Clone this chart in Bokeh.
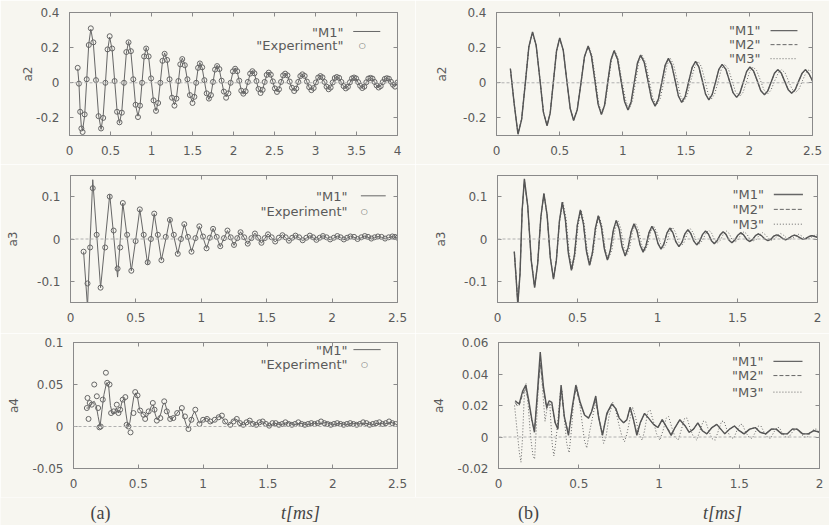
from bokeh.plotting import figure
from bokeh.layouts import row, column
from bokeh.models import Range1d, FixedTicker, LinearAxis, Span, Label, Arrow
from bokeh.embed import file_html
from bokeh.resources import INLINE

# ---------------- data (t in ms, amplitude) ----------------
# Panel (a), a2: model M1 and experiment
a2_m1 = [(0.10,0.08),(0.115,0.0),(0.13,-0.16),(0.145,-0.25),(0.16,-0.27),(0.185,-0.186),(0.21,0.018),(0.235,0.221),
 (0.26,0.305),(0.291,0.222),(0.323,0.02),(0.354,-0.182),(0.385,-0.265),(0.411,-0.188),(0.438,-0.003),(0.464,0.183),
 (0.49,0.26),(0.52,0.188),(0.55,0.015),(0.58,-0.158),(0.61,-0.23),(0.638,-0.162),(0.665,0.003),(0.693,0.167),
 (0.72,0.235),(0.749,0.173),(0.778,0.023),(0.806,-0.128),(0.835,-0.19),(0.86,-0.133),(0.885,0.005),(0.91,0.143),
 (0.935,0.20),(0.965,0.147),(0.995,0.02),(1.025,-0.107),(1.055,-0.16),(1.081,-0.112),(1.108,0.005),(1.134,0.122),
 (1.16,0.17),(1.19,0.127),(1.22,0.023),(1.25,-0.082),(1.28,-0.125),(1.304,-0.086),(1.328,0.008),(1.351,0.101),
 (1.375,0.14),(1.406,0.104),(1.438,0.015),(1.469,-0.074),(1.50,-0.11),(1.523,-0.077),(1.545,0.003),(1.568,0.082),
 (1.59,0.115),(1.618,0.084),(1.645,0.01),(1.673,-0.064),(1.70,-0.095),(1.725,-0.067),(1.75,0.003),(1.775,0.072),
 (1.80,0.10),(1.828,0.074),(1.855,0.01),(1.883,-0.054),(1.91,-0.08),(1.938,-0.056),(1.965,0.003),(1.993,0.061),
 (2.02,0.085),(2.045,0.063),(2.07,0.01),(2.095,-0.043),(2.12,-0.065),(2.148,-0.045),(2.175,0.003),(2.203,0.05),
 (2.23,0.07),(2.255,0.052),(2.28,0.008),(2.305,-0.037),(2.33,-0.055),(2.355,-0.038),(2.38,0.003),(2.405,0.043),
 (2.43,0.06),(2.455,0.044),(2.48,0.005),(2.505,-0.034),(2.53,-0.05),(2.555,-0.035),(2.58,0.003),(2.605,0.04),
 (2.63,0.055),(2.658,0.04),(2.685,0.005),(2.713,-0.03),(2.74,-0.045),(2.765,-0.031),(2.79,0.003),(2.815,0.036),
 (2.84,0.05),(2.868,0.037),(2.895,0.005),(2.923,-0.027),(2.95,-0.04),(2.978,-0.028),(3.005,0.0),(3.033,0.028),
 (3.06,0.04),(3.085,0.029),(3.11,0.003),(3.135,-0.024),(3.16,-0.035),(3.185,-0.025),(3.21,0.0),(3.235,0.025),
 (3.26,0.035),(3.288,0.026),(3.315,0.003),(3.343,-0.021),(3.37,-0.03),(3.395,-0.021),(3.42,0.001),(3.445,0.023),
 (3.47,0.032),(3.495,0.023),(3.52,0.002),(3.545,-0.019),(3.57,-0.028),(3.595,-0.02),(3.62,0.001),(3.645,0.022),
 (3.67,0.03),(3.695,0.022),(3.72,0.003),(3.745,-0.017),(3.77,-0.025),(3.795,-0.017),(3.82,0.002),(3.845,0.02),
 (3.87,0.028),(3.895,0.021),(3.92,0.004),(3.945,-0.013),(3.97,-0.02),(4.0,0.0)]
a2_exp = [(0.10,0.085),(0.115,-0.005),(0.13,-0.165),(0.145,-0.26),(0.16,-0.28),(0.185,-0.18),(0.21,0.02),(0.235,0.215),
 (0.26,0.31),(0.291,0.23),(0.323,0.015),(0.354,-0.19),(0.385,-0.26),(0.411,-0.2),(0.438,0.0),(0.464,0.19),
 (0.49,0.265),(0.52,0.195),(0.55,0.01),(0.58,-0.165),(0.61,-0.225),(0.638,-0.17),(0.665,0.0),(0.693,0.175),
 (0.72,0.23),(0.749,0.18),(0.778,0.02),(0.806,-0.125),(0.835,-0.195),(0.86,-0.13),(0.885,0.0),(0.91,0.15),
 (0.935,0.195),(0.965,0.15),(0.995,0.025),(1.025,-0.1),(1.055,-0.16),(1.081,-0.115),(1.108,0.0),(1.134,0.125),
 (1.16,0.165),(1.19,0.13),(1.22,0.02),(1.25,-0.085),(1.28,-0.13),(1.304,-0.09),(1.328,0.01),(1.351,0.105),
 (1.375,0.135),(1.406,0.1),(1.438,0.02),(1.469,-0.07),(1.50,-0.115),(1.523,-0.08),(1.545,0.0),(1.568,0.085),
 (1.59,0.11),(1.618,0.088),(1.645,0.015),(1.673,-0.06),(1.70,-0.09),(1.725,-0.07),(1.75,0.005),(1.775,0.075),
 (1.80,0.095),(1.828,0.078),(1.855,0.012),(1.883,-0.05),(1.91,-0.085),(1.938,-0.06),(1.965,0.0),(1.993,0.065),
 (2.02,0.08),(2.045,0.066),(2.07,0.012),(2.095,-0.045),(2.12,-0.062),(2.148,-0.048),(2.175,0.005),(2.203,0.052),
 (2.23,0.066),(2.255,0.054),(2.28,0.01),(2.305,-0.035),(2.33,-0.058),(2.355,-0.04),(2.38,0.005),(2.405,0.045),
 (2.43,0.058),(2.455,0.046),(2.48,0.008),(2.505,-0.032),(2.53,-0.052),(2.555,-0.037),(2.58,0.005),(2.605,0.042),
 (2.63,0.052),(2.658,0.042),(2.685,0.007),(2.713,-0.028),(2.74,-0.047),(2.765,-0.033),(2.79,0.005),(2.815,0.038),
 (2.84,0.048),(2.868,0.039),(2.895,0.007),(2.923,-0.025),(2.95,-0.042),(2.978,-0.03),(3.005,0.002),(3.033,0.03),
 (3.06,0.038),(3.085,0.031),(3.11,0.005),(3.135,-0.022),(3.16,-0.037),(3.185,-0.027),(3.21,0.002),(3.235,0.027),
 (3.26,0.033),(3.288,0.028),(3.315,0.005),(3.343,-0.019),(3.37,-0.032),(3.395,-0.023),(3.42,0.003),(3.445,0.025),
 (3.47,0.03),(3.495,0.025),(3.52,0.004),(3.545,-0.017),(3.57,-0.03),(3.595,-0.022),(3.62,0.003),(3.645,0.024),
 (3.67,0.028),(3.695,0.024),(3.72,0.005),(3.745,-0.015),(3.77,-0.027),(3.795,-0.019),(3.82,0.004),(3.845,0.022),
 (3.87,0.026),(3.895,0.023),(3.92,0.006),(3.945,-0.011),(3.97,-0.022),(4.0,0.002)]

# Panel (a), a3
a3_t = [0.10,0.13,0.15,0.17,0.20,0.23,0.265,0.30,0.33,0.36,0.38,0.40,0.433,0.465,0.498,0.53,0.56,0.59,0.615,0.64,
 0.668,0.695,0.728,0.76,0.79,0.82,0.845,0.87,0.898,0.925,0.955,0.985,1.013,1.04,1.065,1.09,1.118,1.145,1.173,1.20,
 1.225,1.25,1.275,1.30,1.328,1.355,1.383,1.41,1.435,1.46,1.485,1.51,1.538,1.565,1.593,1.62,1.645,1.67,1.695,1.72,
 1.748,1.775,1.803,1.83,1.855,1.88,1.905,1.93,1.958,1.985,2.013,2.04,2.065,2.09,2.115,2.14,2.168,2.195,2.223,2.25,
 2.275,2.30,2.325,2.35,2.378,2.405,2.433,2.46,2.48,2.5]
a3_m1 = [-0.03,-0.16,-0.005,0.14,0.012,-0.115,-0.005,0.105,0.008,-0.09,-0.003,0.085,0.005,-0.075,-0.003,0.07,0.005,-0.06,0.0,0.06,
 0.005,-0.05,-0.001,0.048,0.006,-0.035,0.0,0.035,0.003,-0.03,0.0,0.03,0.004,-0.022,0.002,0.025,0.004,-0.018,0.001,0.02,
 0.003,-0.015,0.001,0.017,0.003,-0.012,0.001,0.014,0.002,-0.01,0.001,0.012,0.003,-0.007,0.002,0.01,0.003,-0.005,0.002,0.009,
 0.003,-0.004,0.002,0.008,0.003,-0.003,0.002,0.008,0.003,-0.002,0.002,0.007,0.003,-0.002,0.002,0.007,0.004,-0.001,0.003,0.007,
 0.004,0.0,0.003,0.006,0.004,0.0,0.003,0.006,0.004,0.002]
a3_exp = [-0.03,-0.105,-0.02,0.12,0.01,-0.115,-0.02,0.10,0.02,-0.07,-0.02,0.085,0.01,-0.075,-0.005,0.07,0.01,-0.055,0.0,0.06,
 0.01,-0.05,0.005,0.045,0.01,-0.035,0.0,0.035,0.005,-0.03,0.002,0.03,0.006,-0.022,0.003,0.024,0.005,-0.017,0.002,0.02,
 0.004,-0.014,0.002,0.016,0.004,-0.011,0.002,0.013,0.003,-0.009,0.002,0.011,0.004,-0.006,0.003,0.009,0.004,-0.004,0.003,0.008,
 0.004,-0.003,0.003,0.008,0.004,-0.002,0.003,0.007,0.004,-0.001,0.003,0.007,0.004,-0.001,0.003,0.006,0.005,0.0,0.004,0.007,
 0.005,0.001,0.004,0.006,0.005,0.001,0.004,0.006,0.005,0.003]

# Panel (a), a4
a4_m1 = [(0.10,0.022),(0.12,0.022),(0.14,0.028),(0.16,0.03),(0.175,0.025),(0.19,0.012),(0.205,0.0),(0.22,0.02),
 (0.235,0.038),(0.255,0.052),(0.27,0.05),(0.285,0.025),(0.30,0.015),(0.315,0.016),(0.33,0.022),(0.345,0.016),
 (0.36,0.02),(0.375,0.03),(0.39,0.033),(0.405,0.015),(0.42,0.0),(0.435,0.005),(0.45,0.02),(0.465,0.035),
 (0.48,0.04),(0.495,0.034),(0.51,0.02),(0.525,0.017),(0.54,0.015),(0.555,0.012),(0.57,0.012),(0.585,0.018),
 (0.60,0.024),(0.615,0.026),(0.63,0.015),(0.645,0.008),(0.66,0.01),(0.675,0.016),(0.69,0.026),(0.705,0.028),
 (0.72,0.02),(0.735,0.012),(0.75,0.009),(0.765,0.01),(0.78,0.012),(0.80,0.016),(0.82,0.02),(0.835,0.02),
 (0.85,0.012),(0.87,0.002),(0.885,-0.002),(0.90,0.004),(0.92,0.014),(0.935,0.018),(0.95,0.012),(0.97,0.004),
 (0.99,0.006),(1.01,0.009),(1.03,0.01),(1.05,0.006),(1.07,0.004),(1.09,0.007),(1.11,0.011),(1.13,0.012),
 (1.15,0.01),(1.17,0.005),(1.19,0.002),(1.21,0.003),(1.23,0.007),(1.25,0.009),(1.27,0.007),(1.29,0.003),
 (1.31,0.002),(1.33,0.004),(1.35,0.007),(1.37,0.006),(1.39,0.003),(1.41,0.002),(1.43,0.004),(1.45,0.006),
 (1.47,0.005),(1.49,0.002),(1.51,0.001),(1.55,0.004),(1.60,0.002),(1.65,0.005),(1.70,0.002),(1.75,0.004),
 (1.80,0.002),(1.85,0.004),(1.90,0.003),(1.95,0.005),(2.00,0.002),(2.05,0.004),(2.10,0.002),(2.15,0.004),
 (2.20,0.003),(2.25,0.004),(2.30,0.002),(2.35,0.004),(2.40,0.003),(2.45,0.005),(2.50,0.002)]
a4_exp = [(0.103,0.022),(0.108,0.034),(0.116,0.009),(0.125,0.028),(0.141,0.026),(0.16,0.05),(0.18,0.036),(0.19,0.022),
 (0.20,-0.001),(0.21,0.0),(0.226,0.032),(0.25,0.064),(0.26,0.052),(0.278,0.05),(0.29,0.016),(0.31,0.018),
 (0.334,0.026),(0.347,0.016),(0.36,0.02),(0.38,0.032),(0.40,0.035),(0.41,0.002),(0.424,0.0),(0.44,-0.007),
 (0.463,0.016),(0.476,0.041),(0.494,0.037),(0.514,0.019),(0.54,0.014),(0.553,0.009),(0.58,0.018),(0.612,0.028),
 (0.625,0.02),(0.643,0.007),(0.67,0.01),(0.70,0.03),(0.72,0.018),(0.746,0.009),(0.77,0.01),(0.80,0.016),
 (0.836,0.022),(0.86,0.012),(0.887,-0.003),(0.91,0.008),(0.94,0.02),(0.972,0.003),(1.0,0.008),(1.03,0.009),
 (1.055,0.006),(1.09,0.008),(1.12,0.011),(1.145,0.013),(1.17,0.006),(1.21,0.002),(1.235,0.006),(1.26,0.009),
 (1.285,0.004),(1.31,0.002),(1.335,0.005),(1.36,0.007),(1.385,0.003),(1.41,0.002),(1.435,0.005),(1.46,0.006),
 (1.485,0.003),(1.51,0.001),(1.535,0.004),(1.56,0.004),(1.585,0.002),(1.61,0.003),(1.635,0.005),(1.66,0.003),
 (1.685,0.002),(1.71,0.003),(1.735,0.005),(1.76,0.003),(1.785,0.002),(1.81,0.003),(1.835,0.004),(1.86,0.003),
 (1.885,0.004),(1.91,0.006),(1.935,0.004),(1.96,0.003),(1.985,0.002),(2.01,0.003),(2.035,0.004),(2.06,0.003),
 (2.085,0.002),(2.11,0.003),(2.135,0.004),(2.16,0.003),(2.185,0.002),(2.21,0.003),(2.235,0.005),(2.26,0.004),
 (2.285,0.002),(2.31,0.003),(2.335,0.004),(2.36,0.005),(2.385,0.003),(2.41,0.004),(2.435,0.006),(2.46,0.004),(2.485,0.003)]

# Panel (b), a2: models M1, M2, M3
b2_m1 = [(0.11,0.08),(0.14,-0.12),(0.17,-0.293),(0.199,-0.208),(0.228,-0.002),(0.256,0.205),(0.285,0.29),(0.314,0.212),
 (0.343,0.023),(0.371,-0.167),(0.40,-0.245),(0.425,-0.172),(0.45,0.005),(0.475,0.182),(0.50,0.255),(0.528,0.186),
 (0.555,0.02),(0.583,-0.146),(0.61,-0.215),(0.639,-0.153),(0.668,-0.003),(0.696,0.148),(0.725,0.21),(0.751,0.153),
 (0.778,0.015),(0.804,-0.123),(0.83,-0.18),(0.855,-0.127),(0.88,0.002),(0.905,0.13),(0.93,0.183),(0.958,0.134),
 (0.985,0.014),(1.013,-0.106),(1.04,-0.155),(1.065,-0.109),(1.09,0.002),(1.115,0.112),(1.14,0.158),(1.169,0.116),
 (1.198,0.013),(1.226,-0.09),(1.255,-0.133),(1.281,-0.093),(1.308,0.003),(1.334,0.099),(1.36,0.139),(1.386,0.102),
 (1.413,0.014),(1.439,-0.075),(1.465,-0.112),(1.493,-0.078),(1.52,0.005),(1.548,0.088),(1.575,0.122),(1.601,0.09),
 (1.628,0.013),(1.654,-0.065),(1.68,-0.097),(1.706,-0.068),(1.733,0.004),(1.759,0.076),(1.785,0.105),(1.814,0.078),
 (1.843,0.011),(1.871,-0.056),(1.90,-0.083),(1.926,-0.058),(1.953,0.004),(1.979,0.065),(2.005,0.09),(2.034,0.067),
 (2.063,0.011),(2.091,-0.045),(2.12,-0.068),(2.146,-0.047),(2.173,0.004),(2.199,0.054),(2.225,0.075),(2.253,0.055),
 (2.28,0.008),(2.308,-0.04),(2.335,-0.06),(2.363,-0.04),(2.39,0.008),(2.418,0.055),(2.445,0.075),(2.473,0.05),(2.50,0.01)]
b2_m2 = [(0.11,0.08),(0.14,-0.12),(0.17,-0.29),(0.199,-0.206),(0.228,-0.002),(0.256,0.203),(0.285,0.287),(0.314,0.21),
 (0.343,0.022),(0.371,-0.165),(0.40,-0.243),(0.425,-0.171),(0.45,0.005),(0.475,0.18),(0.50,0.252),(0.528,0.184),
 (0.555,0.019),(0.583,-0.145),(0.61,-0.213),(0.639,-0.152),(0.668,-0.003),(0.696,0.146),(0.725,0.208),(0.751,0.151),
 (0.778,0.014),(0.804,-0.122),(0.83,-0.178),(0.855,-0.126),(0.88,0.002),(0.905,0.128),(0.93,0.181),(0.958,0.132),
 (0.985,0.013),(1.013,-0.105),(1.04,-0.153),(1.065,-0.108),(1.09,0.002),(1.115,0.11),(1.14,0.156),(1.169,0.114),
 (1.198,0.012),(1.226,-0.089),(1.255,-0.131),(1.281,-0.092),(1.308,0.003),(1.334,0.097),(1.36,0.137),(1.386,0.1),
 (1.413,0.013),(1.439,-0.074),(1.465,-0.11),(1.493,-0.077),(1.52,0.004),(1.548,0.086),(1.575,0.12),(1.601,0.088),
 (1.628,0.012),(1.654,-0.064),(1.68,-0.095),(1.706,-0.067),(1.733,0.004),(1.759,0.074),(1.785,0.103),(1.814,0.076),
 (1.843,0.011),(1.871,-0.055),(1.90,-0.081),(1.926,-0.057),(1.953,0.004),(1.979,0.063),(2.005,0.088),(2.034,0.065),
 (2.063,0.011),(2.091,-0.044),(2.12,-0.066),(2.146,-0.046),(2.173,0.004),(2.199,0.052),(2.225,0.073),(2.253,0.054),
 (2.28,0.008),(2.308,-0.039),(2.335,-0.058),(2.363,-0.039),(2.39,0.008),(2.418,0.053),(2.445,0.073),(2.473,0.049),(2.50,0.01)]
b2_m3 = [(0.11,0.08),(0.14,-0.12),(0.17,-0.29),(0.199,-0.205),(0.228,0.0),(0.256,0.205),(0.285,0.288),(0.314,0.212),
 (0.343,0.025),(0.371,-0.165),(0.40,-0.243),(0.425,-0.17),(0.45,0.007),(0.475,0.183),(0.50,0.255),(0.528,0.187),
 (0.555,0.022),(0.583,-0.144),(0.61,-0.212),(0.639,-0.15),(0.668,0.0),(0.696,0.15),(0.73,0.21),(0.756,0.155),
 (0.783,0.018),(0.809,-0.12),(0.835,-0.176),(0.86,-0.123),(0.885,0.005),(0.91,0.132),(0.935,0.184),(0.963,0.136),
 (0.99,0.017),(1.023,-0.102),(1.05,-0.15),(1.075,-0.105),(1.10,0.005),(1.125,0.114),(1.15,0.158),(1.179,0.118),
 (1.208,0.016),(1.236,-0.086),(1.265,-0.128),(1.296,-0.089),(1.323,0.006),(1.349,0.1),(1.375,0.139),(1.401,0.104),
 (1.428,0.017),(1.454,-0.071),(1.48,-0.107),(1.508,-0.074),(1.535,0.008),(1.568,0.09),(1.595,0.122),(1.621,0.092),
 (1.648,0.016),(1.674,-0.061),(1.70,-0.092),(1.726,-0.064),(1.753,0.007),(1.779,0.078),(1.805,0.105),(1.834,0.08),
 (1.863,0.014),(1.891,-0.052),(1.925,-0.078),(1.951,-0.054),(1.978,0.007),(2.004,0.067),(2.03,0.09),(2.059,0.069),
 (2.088,0.014),(2.116,-0.041),(2.145,-0.063),(2.171,-0.043),(2.198,0.007),(2.229,0.056),(2.255,0.075),(2.283,0.057),
 (2.31,0.011),(2.338,-0.036),(2.365,-0.055),(2.393,-0.036),(2.42,0.011),(2.448,0.057),(2.475,0.076),(2.503,0.05)]

# Panel (b), a3
b3_m1 = [(0.105,-0.03),(0.116,-0.09),(0.127,-0.155),(0.141,-0.081),(0.154,0.068),(0.168,0.142),(0.189,0.078),(0.211,-0.051),
 (0.232,-0.115),(0.251,-0.059),(0.271,0.052),(0.29,0.108),(0.31,0.057),(0.33,-0.044),(0.35,-0.095),(0.368,-0.05),
 (0.387,0.042),(0.405,0.087),(0.424,0.047),(0.443,-0.034),(0.462,-0.074),(0.481,-0.038),(0.499,0.033),(0.518,0.069),
 (0.537,0.036),(0.556,-0.029),(0.575,-0.062),(0.593,-0.033),(0.612,0.026),(0.63,0.055),(0.649,0.029),(0.668,-0.024),
 (0.687,-0.05),(0.705,-0.027),(0.724,0.021),(0.742,0.044),(0.761,0.023),(0.779,-0.019),(0.798,-0.04),(0.816,-0.021),
 (0.835,0.017),(0.853,0.036),(0.872,0.019),(0.891,-0.014),(0.91,-0.031),(0.928,-0.016),(0.947,0.015),(0.965,0.03),
 (0.984,0.017),(1.003,-0.011),(1.022,-0.024),(1.04,-0.012),(1.059,0.014),(1.077,0.026),(1.096,0.015),(1.115,-0.007),
 (1.134,-0.018),(1.153,-0.008),(1.171,0.012),(1.19,0.022),(1.208,0.013),(1.227,-0.005),(1.245,-0.014),(1.263,-0.006),
 (1.282,0.011),(1.30,0.019),(1.318,0.012),(1.337,-0.004),(1.355,-0.011),(1.373,-0.004),(1.392,0.01),(1.41,0.017),
 (1.428,0.011),(1.447,-0.003),(1.465,-0.009),(1.483,-0.003),(1.502,0.009),(1.52,0.015),(1.538,0.01),(1.557,-0.001),
 (1.575,-0.006),(1.593,-0.002),(1.612,0.008),(1.63,0.012),(1.65,0.008),(1.67,0.0),(1.69,-0.004),(1.708,-0.001),
 (1.727,0.007),(1.745,0.01),(1.763,0.007),(1.782,0.001),(1.80,-0.002),(1.818,0.001),(1.837,0.006),(1.855,0.009),
 (1.873,0.007),(1.892,0.002),(1.91,-0.001),(1.928,0.001),(1.947,0.006),(1.965,0.008),(1.983,0.006),(2.0,0.004)]
b3_m2 = [(0.105,-0.03),(0.116,-0.088),(0.127,-0.152),(0.141,-0.08),(0.154,0.066),(0.168,0.138),(0.189,0.076),(0.211,-0.05),
 (0.232,-0.113),(0.251,-0.058),(0.271,0.051),(0.29,0.106),(0.31,0.056),(0.33,-0.043),(0.35,-0.094),(0.368,-0.049),
 (0.387,0.041),(0.405,0.086),(0.424,0.046),(0.443,-0.033),(0.462,-0.073),(0.481,-0.037),(0.499,0.033),(0.518,0.068),
 (0.537,0.036),(0.556,-0.028),(0.575,-0.061),(0.593,-0.032),(0.612,0.026),(0.63,0.054),(0.649,0.029),(0.668,-0.023),
 (0.687,-0.049),(0.705,-0.026),(0.724,0.021),(0.742,0.043),(0.761,0.023),(0.779,-0.018),(0.798,-0.039),(0.816,-0.02),
 (0.835,0.017),(0.853,0.035),(0.872,0.019),(0.891,-0.013),(0.91,-0.03),(0.928,-0.015),(0.947,0.015),(0.965,0.029),
 (0.984,0.017),(1.003,-0.01),(1.022,-0.023),(1.04,-0.011),(1.059,0.014),(1.077,0.025),(1.096,0.015),(1.115,-0.006),
 (1.134,-0.017),(1.153,-0.007),(1.171,0.012),(1.19,0.021),(1.208,0.013),(1.227,-0.004),(1.245,-0.013),(1.263,-0.005),
 (1.282,0.011),(1.30,0.018),(1.318,0.012),(1.337,-0.003),(1.355,-0.01),(1.373,-0.003),(1.392,0.01),(1.41,0.016),
 (1.428,0.011),(1.447,-0.002),(1.465,-0.008),(1.483,-0.002),(1.502,0.009),(1.52,0.014),(1.538,0.01),(1.557,0.0),
 (1.575,-0.005),(1.593,-0.001),(1.612,0.008),(1.63,0.012),(1.65,0.008),(1.67,0.001),(1.69,-0.003),(1.708,0.0),
 (1.727,0.007),(1.745,0.01),(1.763,0.007),(1.782,0.002),(1.80,-0.001),(1.818,0.002),(1.837,0.006),(1.855,0.009),
 (1.873,0.007),(1.892,0.003),(1.91,0.0),(1.928,0.002),(1.947,0.006),(1.965,0.008),(1.983,0.006),(2.0,0.004)]
b3_m3 = [(0.105,-0.03),(0.116,-0.09),(0.127,-0.15),(0.141,-0.078),(0.154,0.066),(0.168,0.138),(0.189,0.077),(0.211,-0.05),
 (0.232,-0.113),(0.251,-0.058),(0.271,0.051),(0.29,0.106),(0.31,0.056),(0.33,-0.043),(0.35,-0.093),(0.368,-0.049),
 (0.387,0.041),(0.41,0.086),(0.429,0.047),(0.448,-0.033),(0.467,-0.072),(0.486,-0.037),(0.504,0.033),(0.523,0.068),
 (0.542,0.036),(0.561,-0.028),(0.58,-0.06),(0.598,-0.032),(0.617,0.026),(0.635,0.055),(0.654,0.03),(0.673,-0.023),
 (0.692,-0.048),(0.715,-0.026),(0.734,0.021),(0.752,0.044),(0.771,0.024),(0.789,-0.018),(0.808,-0.038),(0.826,-0.02),
 (0.845,0.018),(0.863,0.037),(0.882,0.02),(0.901,-0.013),(0.92,-0.029),(0.938,-0.015),(0.957,0.016),(0.975,0.031),
 (0.994,0.018),(1.018,-0.01),(1.037,-0.022),(1.055,-0.011),(1.074,0.015),(1.092,0.028),(1.111,0.017),(1.13,-0.006),
 (1.149,-0.016),(1.168,-0.007),(1.186,0.013),(1.205,0.024),(1.223,0.015),(1.242,-0.004),(1.26,-0.012),(1.278,-0.005),
 (1.302,0.013),(1.32,0.021),(1.338,0.014),(1.357,-0.003),(1.375,-0.009),(1.393,-0.003),(1.412,0.012),(1.43,0.019),
 (1.448,0.013),(1.467,-0.002),(1.485,-0.007),(1.503,-0.002),(1.522,0.011),(1.54,0.017),(1.558,0.012),(1.577,0.0),
 (1.595,-0.005),(1.618,-0.001),(1.637,0.01),(1.655,0.015),(1.675,0.01),(1.695,0.001),(1.715,-0.003),(1.733,0.0),
 (1.752,0.009),(1.77,0.013),(1.788,0.009),(1.807,0.002),(1.825,-0.001),(1.843,0.001),(1.862,0.008),(1.88,0.011),
 (1.898,0.008),(1.917,0.002),(1.935,0.0),(1.953,0.002),(1.972,0.007),(1.99,0.01),(2.008,0.008)]

# Panel (b), a4
b4_m1 = [(0.104,0.023),(0.115,0.022),(0.129,0.021),(0.15,0.029),(0.17,0.033),(0.187,0.024),(0.208,0.011),(0.224,0.003),
 (0.245,0.032),(0.26,0.054),(0.28,0.032),(0.30,0.019),(0.316,0.023),(0.332,0.022),(0.353,0.009),(0.37,0.005),
 (0.39,0.033),(0.41,0.013),(0.436,0.001),(0.461,0.02),(0.482,0.033),(0.509,0.022),(0.536,0.014),(0.561,0.012),
 (0.58,0.016),(0.606,0.026),(0.623,0.013),(0.648,0.001),(0.675,0.015),(0.706,0.021),(0.731,0.018),(0.752,0.012),
 (0.779,0.009),(0.80,0.011),(0.82,0.019),(0.841,0.011),(0.862,0.001),(0.883,0.009),(0.91,0.015),(0.935,0.012),
 (0.966,0.008),(0.993,0.006),(1.02,0.011),(1.049,0.006),(1.076,0.001),(1.10,0.006),(1.13,0.011),(1.163,0.007),
 (1.188,0.003),(1.215,0.005),(1.242,0.009),(1.27,0.004),(1.298,0.002),(1.33,0.006),(1.36,0.008),(1.385,0.005),
 (1.41,0.002),(1.44,0.005),(1.47,0.007),(1.50,0.004),(1.53,0.002),(1.565,0.005),(1.60,0.006),(1.63,0.003),
 (1.665,0.002),(1.70,0.005),(1.73,0.005),(1.765,0.002),(1.80,0.002),(1.83,0.005),(1.86,0.005),(1.895,0.002),
 (1.93,0.002),(1.965,0.004),(2.0,0.003)]
b4_m2 = [(0.104,0.022),(0.115,0.02),(0.129,0.02),(0.15,0.027),(0.17,0.031),(0.187,0.022),(0.208,0.01),(0.224,0.004),
 (0.245,0.029),(0.26,0.047),(0.28,0.03),(0.30,0.018),(0.316,0.021),(0.332,0.02),(0.353,0.009),(0.37,0.006),
 (0.39,0.03),(0.41,0.013),(0.436,0.002),(0.461,0.019),(0.482,0.031),(0.509,0.021),(0.536,0.014),(0.561,0.012),
 (0.58,0.016),(0.606,0.024),(0.623,0.013),(0.648,0.002),(0.675,0.014),(0.706,0.021),(0.731,0.018),(0.752,0.012),
 (0.779,0.009),(0.80,0.011),(0.82,0.018),(0.841,0.011),(0.862,0.002),(0.883,0.009),(0.91,0.015),(0.935,0.012),
 (0.966,0.008),(0.993,0.006),(1.02,0.011),(1.049,0.006),(1.076,0.002),(1.10,0.006),(1.13,0.011),(1.163,0.007),
 (1.188,0.003),(1.215,0.005),(1.242,0.009),(1.27,0.004),(1.298,0.002),(1.33,0.006),(1.36,0.008),(1.385,0.005),
 (1.41,0.002),(1.44,0.005),(1.47,0.007),(1.50,0.004),(1.53,0.002),(1.565,0.005),(1.60,0.006),(1.63,0.003),
 (1.665,0.002),(1.70,0.005),(1.73,0.005),(1.765,0.002),(1.80,0.002),(1.83,0.005),(1.86,0.005),(1.895,0.002),
 (1.93,0.002),(1.965,0.004),(2.0,0.003)]
b4_m3 = [(0.10,0.02),(0.115,0.005),(0.13,-0.01),(0.14,-0.016),(0.15,0.0),(0.16,0.025),(0.172,0.034),(0.185,0.02),
 (0.20,0.0),(0.215,-0.012),(0.225,-0.014),(0.235,0.005),(0.25,0.035),(0.262,0.046),(0.275,0.03),(0.29,0.01),
 (0.305,0.02),(0.32,0.02),(0.335,-0.005),(0.345,-0.012),(0.355,-0.005),(0.37,0.01),(0.385,0.028),(0.395,0.03),
 (0.41,0.012),(0.425,-0.004),(0.44,-0.01),(0.455,0.005),(0.47,0.025),(0.488,0.032),(0.505,0.022),(0.52,0.01),
 (0.535,-0.002),(0.55,-0.007),(0.565,0.002),(0.585,0.012),(0.605,0.022),(0.62,0.016),(0.64,0.004),(0.655,-0.004),
 (0.67,0.0),(0.69,0.014),(0.712,0.022),(0.73,0.017),(0.75,0.008),(0.77,0.0),(0.785,-0.003),(0.80,0.002),
 (0.82,0.012),(0.835,0.019),(0.855,0.012),(0.875,0.002),(0.895,-0.002),(0.91,0.004),(0.93,0.016),(0.945,0.017),
 (0.965,0.01),(0.985,0.002),(1.005,-0.002),(1.025,0.004),(1.045,0.012),(1.06,0.013),(1.08,0.006),(1.10,0.0),
 (1.12,-0.002),(1.14,0.005),(1.16,0.012),(1.175,0.012),(1.195,0.005),(1.215,0.0),(1.235,-0.002),(1.255,0.004),
 (1.275,0.01),(1.29,0.01),(1.31,0.004),(1.33,-0.001),(1.35,-0.002),(1.37,0.004),(1.39,0.01),(1.405,0.01),
 (1.425,0.004),(1.445,0.0),(1.465,-0.001),(1.485,0.004),(1.505,0.008),(1.52,0.008),(1.54,0.003),(1.56,0.0),
 (1.58,-0.001),(1.60,0.003),(1.62,0.007),(1.635,0.007),(1.655,0.003),(1.675,0.0),(1.695,-0.001),(1.715,0.003),
 (1.735,0.006),(1.75,0.006),(1.77,0.002),(1.79,0.0),(1.81,0.0),(1.83,0.003),(1.85,0.005),(1.865,0.005),
 (1.885,0.002),(1.905,0.0),(1.925,0.0),(1.945,0.003),(1.965,0.005),(1.98,0.005),(2.0,0.003)]

# tick values and labels
xt_4 = [0, 0.5, 1, 1.5, 2, 2.5, 3, 3.5, 4]
xl_4 = ["0", "0.5", "1", "1.5", "2", "2.5", "3", "3.5", "4"]
xt_25 = [0, 0.5, 1, 1.5, 2, 2.5]
xl_25 = ["0", "0.5", "1", "1.5", "2", "2.5"]
xt_2 = [0, 0.5, 1, 1.5, 2]
xl_2 = ["0", "0.5", "1", "1.5", "2"]
yt_a2 = [-0.2, 0, 0.2, 0.4]
yl_a2 = ["-0.2", "0", "0.2", "0.4"]
yt_a3 = [-0.1, 0, 0.1]
yl_a3 = ["-0.1", "0", "0.1"]
yt_a4a = [-0.05, 0, 0.05, 0.1]
yl_a4a = ["-0.05", "0", "0.05", "0.1"]
yt_a4b = [-0.02, 0, 0.02, 0.04, 0.06]
yl_a4b = ["-0.02", "0", "0.02", "0.04", "0.06"]

# ---------------- style ----------------
BG = "#f7f6f0"
INK = "#5a5a5a"
FRAME = "#8a8a8a"
CURVE = "#666666"
SANS = "DejaVu Sans"


def unzip(pairs):
    return [p[0] for p in pairs], [p[1] for p in pairs]


def panel(w, h, borders, xr, yr, xt, xl, yt, yl, ylab, ylab_standoff):
    left, right, top, bottom = borders
    p = figure(width=w, height=h, x_range=Range1d(*xr), y_range=Range1d(*yr),
               output_backend="svg", toolbar_location=None,
               min_border_left=left, min_border_right=right,
               min_border_top=top, min_border_bottom=bottom,
               background_fill_color=BG, border_fill_color=BG,
               outline_line_color=FRAME, outline_line_width=1)
    p.xgrid.visible = False
    p.ygrid.visible = False
    for ax, tv, tl in ((p.xaxis[0], xt, xl), (p.yaxis[0], yt, yl)):
        ax.ticker = FixedTicker(ticks=tv)
        ax.major_label_overrides = {k: s for k, s in zip(tv, tl)}
        ax.major_tick_in = 4
        ax.major_tick_out = 0
        ax.minor_tick_line_color = None
        ax.major_tick_line_color = FRAME
        ax.axis_line_color = FRAME
        ax.major_label_text_font = SANS
        ax.major_label_text_font_size = "12px"
        ax.major_label_text_color = INK
        ax.major_label_standoff = 10
    p.yaxis[0].axis_label = ylab
    p.yaxis[0].axis_label_text_font = SANS
    p.yaxis[0].axis_label_text_font_style = "normal"
    p.yaxis[0].axis_label_text_font_size = "12px"
    p.yaxis[0].axis_label_text_color = INK
    p.yaxis[0].axis_label_standoff = ylab_standoff
    # mirrored inward ticks on top and right (gnuplot style)
    for loc, tv in (("above", xt), ("right", yt)):
        m = LinearAxis(ticker=FixedTicker(ticks=tv),
                       major_label_overrides={k: "" for k in tv},
                       major_tick_in=4, major_tick_out=0, minor_tick_line_color=None,
                       major_tick_line_color=FRAME, axis_line_color=FRAME,
                       major_label_standoff=0, major_label_text_font_size="1px")
        p.add_layout(m, loc)
    p.add_layout(Span(location=0, dimension="width", line_color="#b0b0b0",
                      line_width=1, line_dash="3 2"))
    return p


def legend_text(p, x, y, text):
    p.add_layout(Label(x=x, y=y, text=text, text_align="right", text_baseline="middle",
                       text_font=SANS, text_font_size="13px", text_color=INK))


def legend_line(p, x0, x1, y, dash, width):
    p.add_layout(Arrow(end=None, x_start=x0, y_start=y, x_end=x1, y_end=y,
                       line_color=CURVE, line_width=width, line_dash=dash))


def legend_marker(p, x, y):
    p.add_layout(Label(x=x, y=y, text="\u25cb", text_align="center", text_baseline="middle",
                       text_font=SANS, text_font_size="8px", text_color=CURVE))


# ---------------- (a) column ----------------
pa2 = panel(415, 164, (69, 18, 10, 27), (0, 4), (-0.3, 0.4), xt_4, xl_4, yt_a2, yl_a2, "a2", -2)
x, y = unzip(a2_m1)
pa2.line(x, y, line_color=CURVE, line_width=1)
x, y = unzip(a2_exp)
pa2.scatter(x, y, marker="circle", size=5, fill_alpha=0, line_color=CURVE, line_width=1)
legend_text(pa2, 3.34, 0.289, '"M1"')
legend_line(pa2, 3.46, 3.79, 0.292, "solid", 1)
legend_text(pa2, 3.34, 0.211, '"Experiment"')
legend_marker(pa2, 3.57, 0.211)

pa3 = panel(415, 169, (70, 18, 11, 29), (0, 2.5), (-0.15, 0.15), xt_25, xl_25, yt_a3, yl_a3, "a3", 14)
pa3.line(a3_t, a3_m1, line_color=CURVE, line_width=1)
pa3.scatter(a3_t, a3_exp, marker="circle", size=5, fill_alpha=0, line_color=CURVE, line_width=1)
legend_text(pa3, 2.118, 0.101, '"M1"')
legend_line(pa3, 2.22, 2.41, 0.102, "solid", 1)
legend_text(pa3, 2.118, 0.066, '"Experiment"')
legend_marker(pa3, 2.245, 0.066)

pa4 = panel(415, 164, (73, 18, 9, 28), (0, 2.5), (-0.05, 0.1), xt_25, xl_25, yt_a4a, yl_a4a, "a4", 8)
x, y = unzip(a4_m1)
pa4.line(x, y, line_color=CURVE, line_width=1)
x, y = unzip(a4_exp)
pa4.scatter(x, y, marker="circle", size=5, fill_alpha=0, line_color=CURVE, line_width=1)
legend_text(pa4, 2.114, 0.0906, '"M1"')
legend_line(pa4, 2.16, 2.37, 0.0915, "solid", 1)
legend_text(pa4, 2.114, 0.0741, '"Experiment"')
legend_marker(pa4, 2.245, 0.0741)

# ---------------- (b) column ----------------
def models(p, m1, m2, m3):
    x, y = unzip(m3)
    p.line(x, y, line_color=CURVE, line_width=1, line_dash="1 2")
    x, y = unzip(m2)
    p.line(x, y, line_color=CURVE, line_width=1, line_dash="4 2")
    x, y = unzip(m1)
    p.line(x, y, line_color="#555555", line_width=1.4)


def model_legend(p, xt_, x0, x1, ys):
    for (lab, dash, wdt), yy in zip((('"M1"', "solid", 1.4), ('"M2"', "4 2", 1), ('"M3"', "1 2", 1)), ys):
        legend_text(p, xt_, yy, lab)
        legend_line(p, x0, x1, yy, dash, wdt)


pb2 = panel(414, 164, (81, 17, 12, 29), (0, 2.5), (-0.3, 0.4), xt_25, xl_25, yt_a2, yl_a2, "a2", 11)
models(pb2, b2_m1, b2_m2, b2_m3)
model_legend(pb2, 2.089, 2.168, 2.381, (0.297, 0.217, 0.137))

pb3 = panel(414, 169, (82, 12, 10, 31), (0, 2), (-0.15, 0.15), xt_2, xl_2, yt_a3, yl_a3, "a3", 13)
models(pb3, b3_m1, b3_m2, b3_m3)
model_legend(pb3, 1.665, 1.727, 1.909, (0.105, 0.07, 0.035))

pb4 = panel(414, 164, (83, 10, 8, 29), (0, 2), (-0.02, 0.06), xt_2, xl_2, yt_a4b, yl_a4b, "a4", 8)
models(pb4, b4_m1, b4_m2, b4_m3)
model_legend(pb4, 1.651, 1.713, 1.894, (0.048, 0.039, 0.0285))

# ---------------- caption strip: (a) t[ms]   (b) t[ms] ----------------
cap = figure(width=829, height=28, x_range=Range1d(0, 829), y_range=Range1d(0, 28),
             x_axis_type=None, y_axis_type=None, output_backend="svg", toolbar_location=None,
             min_border_left=0, min_border_right=0, min_border_top=0, min_border_bottom=0,
             background_fill_color=BG, border_fill_color=BG, outline_line_color=None)
cap.xgrid.visible = False
cap.ygrid.visible = False
for cx, txt, style in ((100, "(a)", "normal"), (300, "t[ms]", "italic"),
                       (528, "(b)", "normal"), (722, "t[ms]", "italic")):
    cap.add_layout(Label(x=cx, y=13, text=txt, text_align="center", text_baseline="middle",
                         text_font="Liberation Serif", text_font_style=style,
                         text_font_size="18px", text_color="#444444"))

layout = column(row(pa2, pb2), row(pa3, pb3), row(pa4, pb4), cap)
open("out.html", "w").write(file_html(layout, INLINE))
